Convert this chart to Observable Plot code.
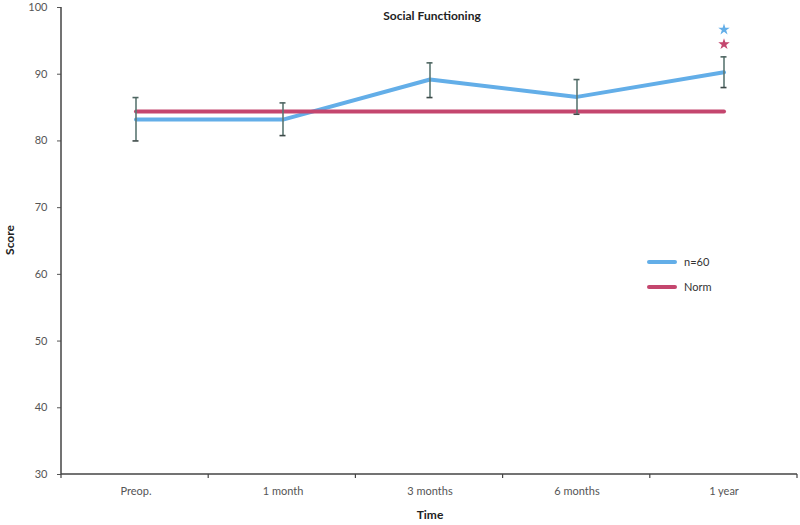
<!DOCTYPE html>
<html><head><meta charset="utf-8">
<script src="https://cdn.jsdelivr.net/npm/d3@7"></script>
<script src="https://cdn.jsdelivr.net/npm/@observablehq/plot@0.6"></script>
<style>
body{margin:0;background:#fff;font-family:Lato,"Open Sans",sans-serif;}
#wrap{position:relative;width:800px;height:525px;}
.ov{position:absolute;color:#222;font-weight:bold;font-size:12px;white-space:nowrap;}
.leg{position:absolute;left:647px;font-size:11px;color:#333;display:flex;align-items:center;}
.leg span.sw{display:inline-block;width:30px;height:4px;border-radius:2px;margin-right:7px;}
</style></head><body><div id="wrap"></div>
<script>
const categories = ["Preop.","1 month","3 months","6 months","1 year"];
const means = [83.2, 83.2, 89.2, 86.6, 90.3];
const lower = [80.0, 80.8, 86.5, 84.0, 88.0];
const upper = [86.5, 85.7, 91.7, 89.2, 92.6];
const normValue = 84.4;
const starCategory = "1 year";
const starValues = [96.7, 94.5];
const seriesNames = ["n=60", "Norm"];
const colors = ["#63aee8", "#c4466e"];
const yTicks = [30, 40, 50, 60, 70, 80, 90, 100];

const data = categories.map((c, i) => ({time: c, mean: means[i], lo: lower[i], hi: upper[i], norm: normValue}));
const stars = starValues.map((v, i) => ({time: starCategory, v, s: seriesNames[i], c: colors[i]}));

function axes(index, scales, values, dim) {
  const g = d3.create("svg:g");
  const y = scales.y;
  const left = dim.marginLeft, right = dim.width - dim.marginRight;
  const step = (right - left) / categories.length;
  const y0 = y(30);
  g.append("line").attr("x1", left).attr("x2", left).attr("y1", y(100)).attr("y2", y0).attr("stroke", "#444").attr("stroke-width", 1.5);
  g.append("line").attr("x1", left).attr("x2", right).attr("y1", y0).attr("y2", y0).attr("stroke", "#444").attr("stroke-width", 1.5);
  for (let i = 0; i <= categories.length; i++) {
    const xx = left + i * step;
    g.append("line").attr("x1", xx).attr("x2", xx).attr("y1", y0).attr("y2", y0 + 4).attr("stroke", "#444").attr("stroke-width", 1.2);
  }
  return g.node();
}

const plot = Plot.plot({
  width: 800, height: 525,
  marginLeft: 61, marginRight: 3, marginTop: 7, marginBottom: 51,
  style: {fontFamily: "Lato, 'Open Sans', sans-serif", fontSize: "11px", color: "#555", background: "white"},
  x: {type: "band", domain: categories, padding: 0, tickSize: 0, tickPadding: 13, label: null},
  y: {domain: [30, 100], ticks: yTicks, tickSize: 4, tickPadding: 10, label: null},
  marks: [
    axes,
    Plot.line(data, {x: "time", y: "mean", stroke: colors[0], strokeWidth: 4}),
    Plot.line(data, {x: "time", y: "norm", stroke: colors[1], strokeWidth: 4}),
    Plot.ruleX(data, {x: "time", y1: "lo", y2: "hi", stroke: "#5b7672", strokeWidth: 1.6}),
    Plot.tickY(data, {x: "time", y: "hi", stroke: "#4f6662", strokeWidth: 1.6, insetLeft: 70.5, insetRight: 70.5}),
    Plot.tickY(data, {x: "time", y: "lo", stroke: "#3d4a48", strokeWidth: 1.6, insetLeft: 70.5, insetRight: 70.5}),
    Plot.dot(stars, {x: "time", y: "v", symbol: "star", fill: "c", stroke: "none", r: 3.6})
  ]
});
const wrap = document.getElementById("wrap");
wrap.appendChild(plot);

function addText(txt, css, cls) {
  const d = document.createElement("div");
  d.className = cls || "ov";
  d.textContent = txt;
  Object.assign(d.style, css);
  wrap.appendChild(d);
  return d;
}
addText("Social Functioning", {left: "432px", top: "8px", transform: "translateX(-50%)"});
addText("Time", {left: "430px", top: "507px", transform: "translateX(-50%)"});
addText("Score", {left: "9px", top: "240px", transform: "translate(-50%,-50%) rotate(-90deg)"});

seriesNames.forEach((name, i) => {
  const d = document.createElement("div");
  d.className = "leg";
  d.style.top = (255 + i * 25) + "px";
  const sw = document.createElement("span");
  sw.className = "sw";
  sw.style.background = colors[i];
  d.appendChild(sw);
  d.appendChild(document.createTextNode(name));
  wrap.appendChild(d);
});
</script>
</body></html>
